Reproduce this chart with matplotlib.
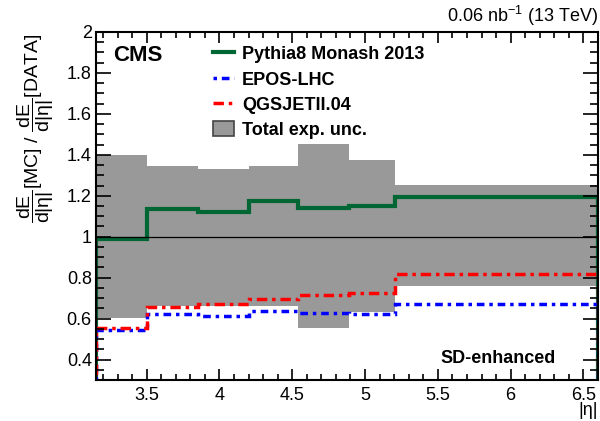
import matplotlib
matplotlib.use("Agg")
import matplotlib.pyplot as plt
from matplotlib.patches import Patch
from matplotlib.lines import Line2D
from matplotlib.ticker import MultipleLocator

plt.rcParams['font.family'] = ['Liberation Sans', 'DejaVu Sans']
plt.rcParams['mathtext.fontset'] = 'custom'
plt.rcParams['mathtext.rm'] = 'Liberation Sans'
plt.rcParams['mathtext.it'] = 'Liberation Sans:italic'
plt.rcParams['mathtext.bf'] = 'Liberation Sans:bold'

# bin edges in |eta| (HF + CASTOR)
edges = [3.152, 3.5, 3.852, 4.2, 4.54, 4.889, 5.205, 6.6]

# total experimental uncertainty band
unc_hi = [1.40, 1.343, 1.33, 1.346, 1.452, 1.376, 1.254]
unc_lo = [0.605, 0.66, 0.66, 0.66, 0.556, 0.63, 0.757]

# MC / DATA ratios
pythia = [0.99, 1.135, 1.12, 1.172, 1.14, 1.148, 1.194]
epos = [0.543, 0.62, 0.615, 0.636, 0.628, 0.623, 0.672]
qgsjet = [0.555, 0.657, 0.673, 0.696, 0.717, 0.725, 0.818]

labels = ['Pythia8 Monash 2013', 'EPOS-LHC', 'QGSJETII.04', 'Total exp. unc.']
xticks = [3.5, 4, 4.5, 5, 5.5, 6, 6.5]
xticklabels = ['3.5', '4', '4.5', '5', '5.5', '6', '6.5']
yticks = [0.4, 0.6, 0.8, 1.0, 1.2, 1.4, 1.6, 1.8, 2.0]
yticklabels = ['0.4', '0.6', '0.8', '1', '1.2', '1.4', '1.6', '1.8', '2']

green = '#006633'
blue_ls = (0, (1, 1.4, 2.2, 1.4))
red_ls = (0, (3, 1.4, 1, 1.4))

fig = plt.figure(figsize=(6.0, 4.21), dpi=100)
ax = fig.add_axes([96/600, 1-380/421, 502/600, 348/421])

ax.stairs(unc_hi, edges, baseline=unc_lo, fill=True, color='#999999')
ax.axhline(1.0, color='black', lw=0.9)
ax.stairs(pythia, edges, color=green, lw=3.0)
ax.stairs(epos, edges, color='#0000ff', lw=2.5, linestyle=blue_ls)
ax.stairs(qgsjet, edges, color='#ff0000', lw=2.5, linestyle=red_ls)

ax.set_xlim(3.152, 6.6)
ax.set_ylim(0.3, 2.0)
ax.set_xticks(xticks)
ax.set_xticklabels(xticklabels)
ax.set_yticks(yticks)
ax.set_yticklabels(yticklabels)
ax.xaxis.set_minor_locator(MultipleLocator(0.1))
ax.yaxis.set_minor_locator(MultipleLocator(0.05))
ax.tick_params(which='both', direction='in', top=True, right=True, labelsize=13, width=1.2)
ax.tick_params(axis='x', which='major', length=8, pad=5)
ax.tick_params(axis='x', which='minor', length=4)
ax.tick_params(axis='y', which='major', length=11, pad=3)
ax.tick_params(axis='y', which='minor', length=6)
for s in ax.spines.values():
    s.set_linewidth(1.5)

# legend
handles = [Line2D([], [], color=green, lw=3.0),
           Line2D([], [], color='#0000ff', lw=2.5, linestyle=blue_ls),
           Line2D([], [], color='#ff0000', lw=2.5, linestyle=red_ls),
           Patch(facecolor='#999999', edgecolor='#444444', lw=1.2)]
ax.legend(handles, labels, loc='upper left', bbox_to_anchor=(0.206, 1.0), frameon=False,
          prop={'weight': 'bold', 'size': 13}, handlelength=1.15, handleheight=0.9,
          handletextpad=0.45, labelspacing=0.42, borderaxespad=0.35)

ax.text(113/600, 1-55.5/421, 'CMS', transform=fig.transFigure, fontsize=16,
        fontweight='bold', va='center', ha='left')
ax.text(0.916, 0.063, 'SD-enhanced', transform=ax.transAxes, fontsize=13,
        fontweight='bold', va='center', ha='right')
fig.text(598/600, 1-16/421, r'0.06 nb$^{-1}$ (13 TeV)', ha='right', va='center', fontsize=13)
fig.text(598/600, 2/421, '|η|', ha='right', va='bottom', fontsize=13)
fig.text(36/600, 1-128.5/421,
         r'$\dfrac{\mathrm{dE}}{\mathrm{d|\eta|}}$[MC] / $\dfrac{\mathrm{dE}}{\mathrm{d|\eta|}}$[DATA]',
         rotation=90, ha='center', va='center', fontsize=14)

fig.savefig('out.png', dpi=100)
